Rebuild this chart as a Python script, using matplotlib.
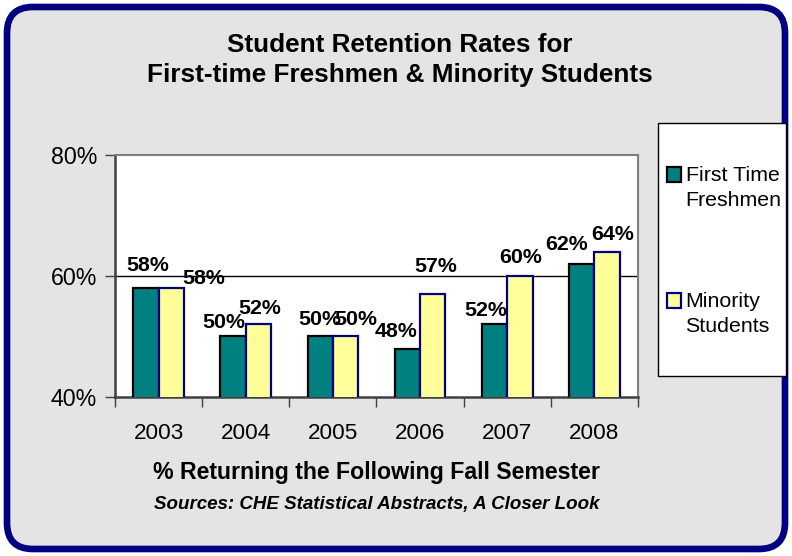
import matplotlib
matplotlib.use("Agg")
import matplotlib.pyplot as plt
from matplotlib.patches import FancyBboxPatch
import numpy as np

plt.rcParams['font.family'] = ['Liberation Sans', 'DejaVu Sans']

years = ["2003", "2004", "2005", "2006", "2007", "2008"]
first_time = [58, 50, 50, 48, 52, 62]
minority = [58, 52, 50, 57, 60, 64]
series_names = ["First Time\nFreshmen", "Minority\nStudents"]
title = "Student Retention Rates for\nFirst-time Freshmen & Minority Students"
xlabel = "% Returning the Following Fall Semester"
source = "Sources: CHE Statistical Abstracts, A Closer Look"
yticks = [40, 60, 80]

# label offsets in pixels (dx, dy) relative to bar top centre
ft_off = [(2, 23), (-9, 14), (0, 17), (-11, 17), (-9, 14), (-15, 19)]
mi_off = [(33, 10), (1, 16), (10, 17), (3, 28), (1, 18), (6, 17)]

W, H = 792, 556
fig = plt.figure(figsize=(W / 100, H / 100), dpi=100)
fig.patch.set_facecolor("white")

bg = fig.add_axes([0, 0, 1, 1], zorder=-5)
bg.set_xlim(0, W)
bg.set_ylim(H, 0)
bg.axis("off")
bg.add_patch(FancyBboxPatch((7, 7), W - 14, H - 14,
                            boxstyle="round,pad=0,rounding_size=26",
                            facecolor="#e4e4e4", edgecolor="#000080",
                            linewidth=4.8))
# legend frame
bg.add_patch(plt.Rectangle((658, 123), 128, 253, facecolor="white",
                           edgecolor="black", linewidth=1))

ax = fig.add_axes([115 / W, (H - 397) / H, 523 / W, 242 / H])
ax.set_facecolor("white")
x = np.arange(len(years))
bw = 0.29
b1 = ax.bar(x - bw / 2, first_time, bw, color="#008080", edgecolor="black",
            linewidth=1.6, zorder=3, label=series_names[0])
b2 = ax.bar(x + bw / 2, minority, bw, color="#FFFF99", edgecolor="#000080",
            linewidth=1.6, zorder=3, label=series_names[1])

ax.set_xlim(-0.5, len(years) - 0.5)
ax.set_ylim(40, 80)
ax.set_yticks(yticks)
ax.set_yticklabels([f"{v}%" for v in yticks], fontsize=16.7)
ax.set_xticks(x)
ax.set_xticklabels(years, fontsize=16.2)
ax.tick_params(axis="x", length=0, pad=19)
ax.set_xticks(np.arange(-0.5, len(years)), minor=True)
ax.tick_params(axis="x", which="minor", length=7, width=1, color="#404040", direction="out")
ax.tick_params(axis="y", length=7, width=1, color="#404040", direction="out", pad=6)
for v in yticks[1:-1]:
    ax.axhline(v, color="black", linewidth=1, zorder=1)
for s in ["top", "right"]:
    ax.spines[s].set_color("#808080")
    ax.spines[s].set_linewidth(1.5)
for s in ["left", "bottom"]:
    ax.spines[s].set_color("#404040")
    ax.spines[s].set_linewidth(1.8)

for bars, vals, offs in ((b1, first_time, ft_off), (b2, minority, mi_off)):
    for rect, v, (dx, dy) in zip(bars, vals, offs):
        ax.annotate(f"{v}%", (rect.get_x() + rect.get_width() / 2, v),
                    xytext=(dx, dy), textcoords="offset pixels",
                    ha="center", va="center", fontsize=15.4, fontweight="bold",
                    zorder=5)

ax.set_xlabel(xlabel, fontsize=16.7, fontweight="bold", labelpad=12)

fig.text(0.505, 1 - 60 / H, title, ha="center", va="center", fontsize=18.8,
         fontweight="bold", linespacing=1.32)
fig.text((115 + 638) / 2 / W, 1 - 504 / H, source, ha="center", va="center",
         fontsize=13.5, fontweight="bold", style="italic")

# legend (handles aligned with the first line of each label)
for bars, name, base in ((b1, series_names[0], 181), (b2, series_names[1], 307)):
    p = bars.patches[0]
    bg.add_patch(plt.Rectangle((666.5, base - 14), 14.5, 14.5,
                               facecolor=p.get_facecolor(),
                               edgecolor=p.get_edgecolor(), linewidth=1.6))
    for k, line in enumerate(name.split("\n")):
        bg.text(685.5, base + 25 * k, line, ha="left", va="baseline",
                fontsize=15.4)

fig.savefig("out.png", dpi=100)
